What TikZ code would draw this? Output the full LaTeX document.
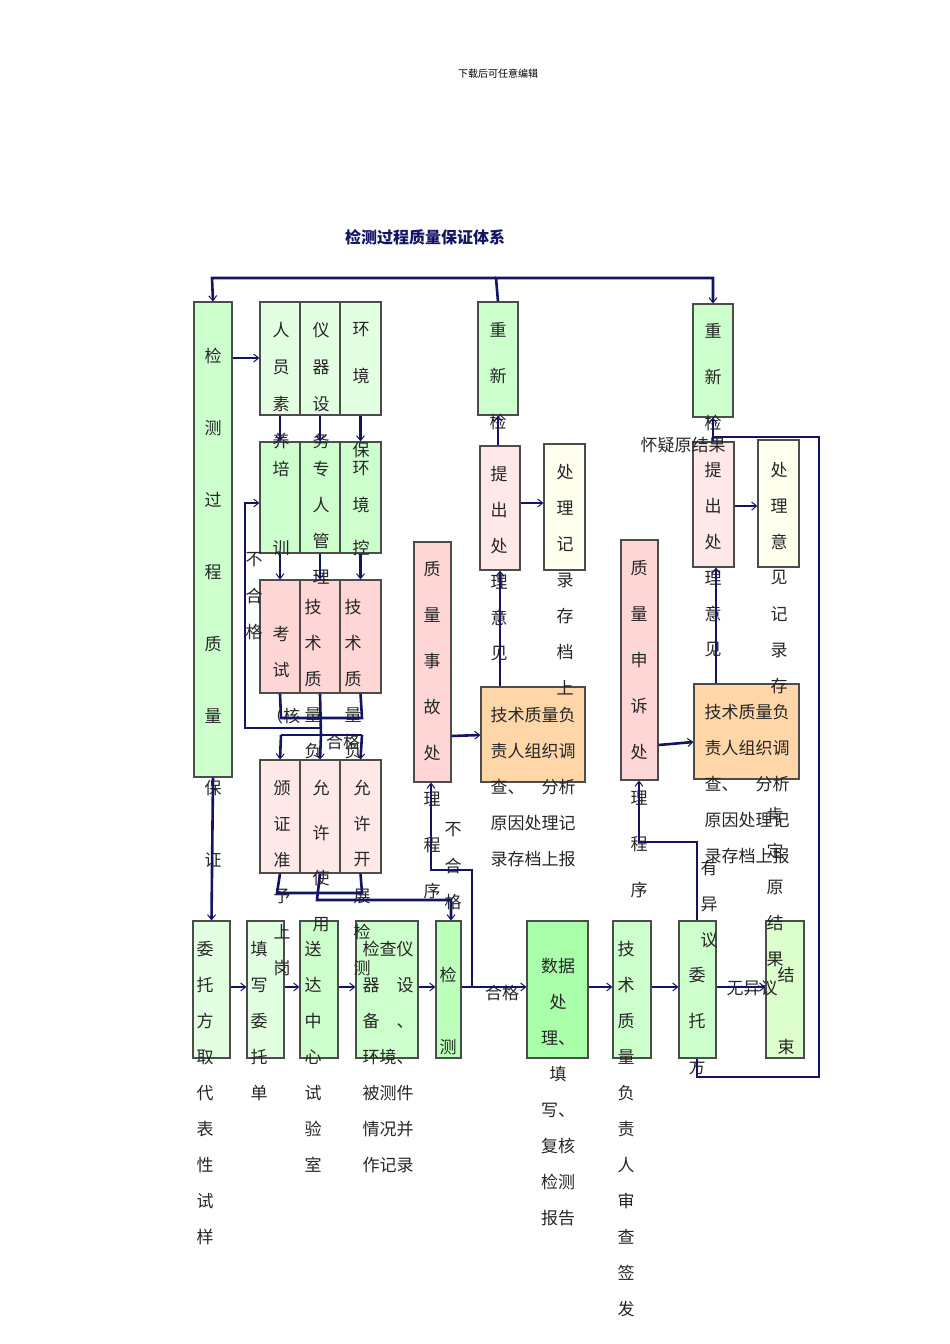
\documentclass[tikz,border=0pt]{standalone}
\usepackage{fontspec}
\setmainfont{Noto Sans CJK SC}
\usetikzlibrary{arrows.meta}
\definecolor{navy}{HTML}{141466}
\definecolor{gA}{HTML}{CCFFCC}
\definecolor{gB}{HTML}{E2FFE2}
\definecolor{gC}{HTML}{AAFFAA}
\definecolor{gD}{HTML}{BBFFBB}
\definecolor{pA}{HTML}{FFD6D6}
\definecolor{pB}{HTML}{FFE8E8}
\definecolor{oA}{HTML}{FFD6A8}
\definecolor{yA}{HTML}{FFFFEE}
\definecolor{gE}{HTML}{DDFFCC}
\tikzset{
 box/.style={draw=black!70,line width=1.2pt,inner sep=0pt},
 txt/.style={font=\fontsize{17}{17}\selectfont,inner sep=0pt,text=black!85},
 ln/.style={draw=navy,line width=2.6pt},
 arr/.style={ln,-{Straight Barb[length=5pt,width=8pt,line width=1pt]}}
}
\newcommand\bx[6]{\node[box,fill=#6,minimum width={(#4-#2)*1pt},minimum height={(#5-#3)*1pt}] (#1) at ({(#2+#4)/2},{(#3+#5)/2}) {};}
\newcommand\vt[4]{\foreach \c [count=\i from 0] in {#4} \node[txt] at (#1,{#2+\i*#3}) {\c};}
\begin{document}
\begin{tikzpicture}[x=1pt,y=-1pt]
\useasboundingbox (0,0) rectangle (950,1344);
\node[font=\fontsize{10}{10}\selectfont] (hdr) at (498,74) {下载后可任意编辑};
\node[font=\fontsize{16}{16}\selectfont\bfseries,text=navy] (ttl) at (425,237) {检测过程质量保证体系};
% boxes
\bx{A}{194}{302}{232}{777}{gA}
\bx{r1a}{260}{302}{300}{415}{gB}\bx{r1b}{300}{302}{340}{415}{gB}\bx{r1c}{340}{302}{381}{415}{gB}
\bx{r2a}{260}{442}{300}{553}{gA}\bx{r2b}{300}{442}{340}{553}{gA}\bx{r2c}{340}{442}{381}{553}{gA}
\bx{r3a}{260}{580}{300}{693}{pA}\bx{r3b}{300}{580}{340}{693}{pA}\bx{r3c}{340}{580}{381}{693}{pA}
\bx{r4a}{260}{760}{300}{873}{pB}\bx{r4b}{300}{760}{340}{873}{pB}\bx{r4c}{340}{760}{381}{873}{pB}
\bx{acc}{414}{542}{451}{782}{pA}
\bx{o1}{481}{687}{585}{782}{oA}
\bx{t1}{480}{446}{520}{570}{pB}
\bx{c1}{478}{302}{518}{415}{gA}
\bx{rec1}{544}{444}{585}{570}{yA}
\bx{app}{621}{540}{658}{780}{pA}
\bx{o2}{694}{684}{799}{779}{oA}
\bx{t2}{693}{442}{734}{567}{pB}
\bx{c2}{693}{304}{733}{417}{gA}
\bx{rec2}{758}{440}{799}{567}{yA}
\bx{b1}{193}{921}{230}{1058}{gB}
\bx{b2}{247}{921}{284}{1058}{gB}
\bx{b3}{300}{921}{338}{1058}{gA}
\bx{b4}{356}{921}{418}{1058}{gA}
\bx{b5}{436}{921}{461}{1058}{gD}
\bx{b6}{527}{921}{588}{1058}{gC}
\bx{b7}{613}{921}{651}{1058}{gA}
\bx{b8}{679}{921}{716}{1058}{gA}
\bx{b9}{766}{921}{804}{1058}{gE}
% texts
\vt{213}{356}{72}{检,测,过,程,质,量,保,证}
\vt{281}{330}{37}{人,员,素,养}
\vt{321}{330}{37}{仪,器,设,务}
\node[txt] at (361,330){环};\node[txt] at (361,376){境};\node[txt] at (361,450){保};
\node[txt] at (281,469){培};\node[txt] at (281,548){训};
\vt{321}{469}{36}{专,人,管,理}
\node[txt] at (361,469){环};\node[txt] at (361,505){境};\node[txt] at (361,548){控};
\node[txt] at (281,634){考};\node[txt] at (281,670){试};\node[txt] at (283,716){（核};
\vt{313}{607}{36}{技,术,质,量,负}
\vt{353}{607}{36}{技,术,质,量,负}
\node[txt] at (343,742){合格};
\vt{254}{560}{36}{不,合,格}
\vt{282}{788}{36}{颁,证,准,予,上,岗}
\node[txt] at (321,788){允};\node[txt] at (321,833){许};\node[txt] at (321,878){使};\node[txt] at (321,925){用};
\vt{362}{788}{36}{允,许,开,展,检,测}
\vt{432}{569}{46}{质,量,事,故,处,理,程,序}
\vt{453}{830}{36}{不,合,格}
\vt{533}{715}{36}{技术质量负,责人组织调,查、\quad 分析,原因处理记,录存档上报}
\vt{499}{474}{36}{提,出,处,理,意,见}
\vt{498}{330}{46}{重,新,检}
\vt{565}{472}{36}{处,理,记,录,存,档,上}
\vt{639}{568}{46}{质,量,申,诉,处,理,程,序}
\vt{747}{712}{36}{技术质量负,责人组织调,查、\quad 分析,原因处理记,录存档上报}
\vt{713}{470}{36}{提,出,处,理,意,见}
\vt{713}{331}{46}{重,新,检}
\vt{779}{470}{36}{处,理,意,见,记,录,存}
\node[txt] at (683,445){怀疑原结果};
\vt{775}{815}{36}{肯,定,原,结,果}
\vt{205}{949}{36}{委,托,方,取,代,表,性,试,样}
\vt{259}{949}{36}{填,写,委,托,单}
\vt{313}{949}{36}{送,达,中,心,试,验,室}
\vt{388}{949}{36}{检查仪,器\quad 设,备\quad 、,环境、,被测件,情况并,作记录}
\node[txt] at (448,975){检};\node[txt] at (448,1047){测};
\vt{558}{966}{36}{数据,处,理、,填,写、,复核,检测,报告}
\vt{626}{949}{36}{技,术,质,量,负,责,人,审,查,签,发}
\vt{697}{975}{46}{委,托,方}
\vt{709}{868}{36}{有,异,议}
\node[txt] at (786,975){结};\node[txt] at (786,1047){束};
\node[txt] at (502,993){合格};
\node[txt] at (752,988){无异议};
% connectors
\draw[arr] (c1.north) -- (496,278) -- (713,278) -- (c2.north);
\draw[arr] (496,278) -- (212,278) -- (A.north);
\draw[arr] (A.east|-0,358) -- (r1a.west|-0,358);
\draw[arr] (A.south) -- (b1.north);
\foreach \u/\v in {r1a/r2a,r1b/r2b,r1c/r2c,r2a/r3a,r2b/r3b,r2c/r3c}
 \draw[arr] (\u.south) -- (\v.north);
\draw[ln] (r3a.south) -- (281,718) -- (362,718) -- (r3c.south);
\draw[ln] (r3b.south) -- (321,735);
\draw[arr] (281,760)++(0,-25) -- (r4a.north);
\draw[ln] (281,735) -- (362,735);
\draw[arr] (362,735) -- (r4c.north);
\draw[arr] (321,735) -- (r4b.north);
\draw[arr] (321,728) -- (245,728) -- (245,503) -- (r2a.west|-0,503);
\draw[ln] (r4a.south) -- (277,893) -- (362,893) -- (r4c.south);
\draw[arr] (r4b.south) -- (317,900) -- (451,900) -- (b5.north-|451,0);
\draw[arr] (b1.east|-0,987) -- (b2.west|-0,987);
\draw[arr] (b2.east|-0,987) -- (b3.west|-0,987);
\draw[arr] (b3.east|-0,987) -- (b4.west|-0,987);
\draw[arr] (b4.east|-0,987) -- (b5.west|-0,987);
\draw[arr] (b5.east|-0,987) -- (b6.west|-0,987);
\draw[arr] (b6.east|-0,987) -- (b7.west|-0,987);
\draw[arr] (b7.east|-0,987) -- (b8.west|-0,987);
\draw[arr] (b8.east|-0,987) -- (b9.west|-0,987);
\draw[arr] (472,987) -- (472,870) -- (431,870) -- (acc.south-|431,0);
\draw[arr] (acc.east|-0,736) -- (o1.west|-0,735);
\draw[arr] (o1.north-|500,0) -- (t1.south-|500,0);
\draw[arr] (t1.north-|498,0) -- (c1.south-|498,0);
\draw[arr] (t1.east|-0,503) -- (rec1.west|-0,503);
\draw[arr] (b8.north-|697,0) -- (697,842) -- (639,842) -- (app.south-|639,0);
\draw[arr] (app.east|-0,745) -- (o2.west|-0,742);
\draw[arr] (o2.north-|716,0) -- (t2.south-|716,0);
\draw[arr] (t2.north-|713,0) -- (c2.south-|713,0);
\draw[arr] (t2.east|-0,506) -- (rec2.west|-0,506);
\draw[ln] (b8.south-|697,0) -- (697,1077) -- (819,1077) -- (819,437) -- (713,437);
\end{tikzpicture}
\end{document}
